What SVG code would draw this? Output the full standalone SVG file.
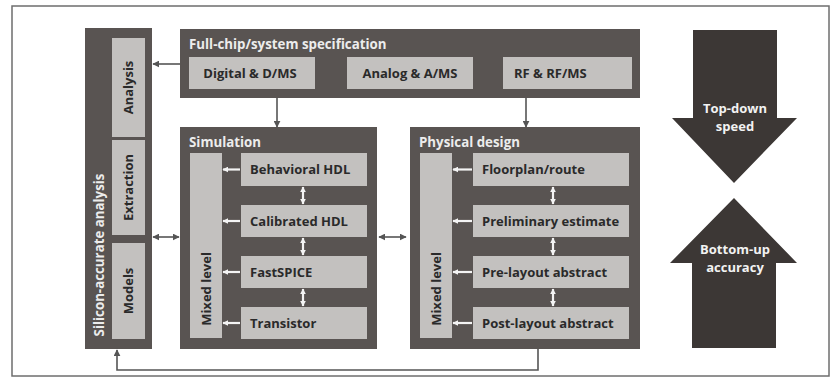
<svg xmlns="http://www.w3.org/2000/svg" width="840" height="382" viewBox="0 0 840 382">
<defs>
<style>
.frame{fill:#ffffff;stroke:#6e6e6e;stroke-width:1.5}
.dark{fill:#595452}
.light{fill:#c3c1bf}
.big{fill:#3c3735}
.ttl{font-family:"Open Sans","Liberation Sans",sans-serif;font-weight:bold;font-size:13.3px;fill:#ececec}
.lbl{font-family:"Open Sans","Liberation Sans",sans-serif;font-weight:bold;font-size:13px;fill:#2a2a2a}
.wht{font-family:"Open Sans","Liberation Sans",sans-serif;font-weight:bold;font-size:13px;fill:#f2f2f2}
.con{fill:none;stroke:#555;stroke-width:1.6}
.win{fill:none;stroke:#f4f4f4;stroke-width:2.2}
</style>
<marker id="ad" viewBox="0 0 10 10" refX="9" refY="5" markerWidth="7" markerHeight="7" markerUnits="userSpaceOnUse" orient="auto-start-reverse"><path d="M0,0 L10,5 L0,10 z" fill="#555"/></marker>
<marker id="aw" viewBox="0 0 10 10" refX="9" refY="5" markerWidth="6" markerHeight="6" markerUnits="userSpaceOnUse" orient="auto-start-reverse"><path d="M0,0 L10,5 L0,10 z" fill="#f4f4f4"/></marker>
</defs>
<rect class="frame" x="12" y="6" width="817" height="370"/>

<g id="silicon">
<rect class="dark" x="85" y="28" width="67" height="321"/>
<text class="ttl" transform="translate(103.5,255) rotate(-90)" text-anchor="middle">Silicon-accurate analysis</text>
</g>
<g id="analysis"><rect class="light" x="112" y="38" width="33" height="99"/><text class="lbl" transform="translate(133,87.5) rotate(-90)" text-anchor="middle">Analysis</text></g>
<g id="extraction"><rect class="light" x="112" y="140" width="33" height="95"/><text class="lbl" transform="translate(133,187.5) rotate(-90)" text-anchor="middle">Extraction</text></g>
<g id="models"><rect class="light" x="112" y="243" width="33" height="96"/><text class="lbl" transform="translate(133,291) rotate(-90)" text-anchor="middle">Models</text></g>

<g id="spec">
<rect class="dark" x="180" y="29" width="460" height="69"/>
<text class="ttl" x="189" y="49">Full-chip/system specification</text>
</g>
<g id="digital"><rect class="light" x="189" y="57" width="126" height="32"/><text class="lbl" x="250" y="78" text-anchor="middle">Digital &amp; D/MS</text></g>
<g id="analog"><rect class="light" x="347" y="57" width="126" height="32"/><text class="lbl" x="410" y="78" text-anchor="middle">Analog &amp; A/MS</text></g>
<g id="rf"><rect class="light" x="503" y="57" width="129" height="32"/><text class="lbl" x="514" y="78">RF &amp; RF/MS</text></g>

<g id="simulation">
<rect class="dark" x="180" y="127" width="197" height="222"/>
<text class="ttl" x="189" y="147">Simulation</text>
</g>
<g id="sim-mixed"><rect class="light" x="190" y="153" width="32" height="185"/><text class="lbl" transform="translate(210.5,289) rotate(-90)" text-anchor="middle">Mixed level</text></g>
<g id="behavioral"><rect class="light" x="241" y="153" width="126" height="33"/><text class="lbl" x="250" y="174">Behavioral HDL</text></g>
<g id="calibrated"><rect class="light" x="241" y="205" width="126" height="32"/><text class="lbl" x="250" y="226">Calibrated HDL</text></g>
<g id="fastspice"><rect class="light" x="241" y="256" width="126" height="32"/><text class="lbl" x="250" y="277">FastSPICE</text></g>
<g id="transistor"><rect class="light" x="241" y="307" width="126" height="32"/><text class="lbl" x="250" y="328">Transistor</text></g>

<g id="physical">
<rect class="dark" x="410" y="127" width="230" height="222"/>
<text class="ttl" x="419" y="147">Physical design</text>
</g>
<g id="phy-mixed"><rect class="light" x="420" y="153" width="32" height="185"/><text class="lbl" transform="translate(440.5,289) rotate(-90)" text-anchor="middle">Mixed level</text></g>
<g id="floorplan"><rect class="light" x="473" y="153" width="156" height="33"/><text class="lbl" x="482" y="174">Floorplan/route</text></g>
<g id="prelim"><rect class="light" x="473" y="205" width="156" height="32"/><text class="lbl" x="482" y="226">Preliminary estimate</text></g>
<g id="prelayout"><rect class="light" x="473" y="256" width="156" height="32"/><text class="lbl" x="482" y="277">Pre-layout abstract</text></g>
<g id="postlayout"><rect class="light" x="473" y="307" width="156" height="32"/><text class="lbl" x="482" y="328">Post-layout abstract</text></g>

<g id="topdown">
<path class="big" d="M693,30 H777 V118 H797 L734,183 L672,118 H693 Z"/>
<text class="wht" x="735" y="113" text-anchor="middle">Top-down</text>
<text class="wht" x="735" y="131" text-anchor="middle">speed</text>
</g>
<g id="bottomup">
<path class="big" d="M692,348 V263 H670 L734,198 L797,263 H776 V348 Z"/>
<text class="wht" x="735" y="254" text-anchor="middle">Bottom-up</text>
<text class="wht" x="735" y="272" text-anchor="middle">accuracy</text>
</g>

<g id="connectors">
<path class="con" d="M180,64 H153" marker-end="url(#ad)"/>
<path class="con" d="M277,98 V127" marker-end="url(#ad)"/>
<path class="con" d="M526,98 V127" marker-end="url(#ad)"/>
<path class="con" d="M153,237 H179" marker-start="url(#ad)" marker-end="url(#ad)"/>
<path class="con" d="M379,237 H406" marker-start="url(#ad)" marker-end="url(#ad)"/>
<path class="con" d="M538,349 V370 H117 V350" marker-end="url(#ad)"/>
<path class="win" d="M240,169.5 H223" marker-end="url(#aw)"/>
<path class="win" d="M240,221 H223" marker-end="url(#aw)"/>
<path class="win" d="M240,272 H223" marker-end="url(#aw)"/>
<path class="win" d="M240,323 H223" marker-end="url(#aw)"/>
<path class="win" d="M472,169.5 H453" marker-end="url(#aw)"/>
<path class="win" d="M472,221 H453" marker-end="url(#aw)"/>
<path class="win" d="M472,272 H453" marker-end="url(#aw)"/>
<path class="win" d="M472,323 H453" marker-end="url(#aw)"/>
<path class="win" d="M303,187 V204" marker-start="url(#aw)" marker-end="url(#aw)"/>
<path class="win" d="M303,238 V255" marker-start="url(#aw)" marker-end="url(#aw)"/>
<path class="win" d="M303,289 V306" marker-start="url(#aw)" marker-end="url(#aw)"/>
<path class="win" d="M553,187 V204" marker-start="url(#aw)" marker-end="url(#aw)"/>
<path class="win" d="M553,238 V255" marker-start="url(#aw)" marker-end="url(#aw)"/>
<path class="win" d="M553,289 V306" marker-start="url(#aw)" marker-end="url(#aw)"/>
</g>
</svg>
